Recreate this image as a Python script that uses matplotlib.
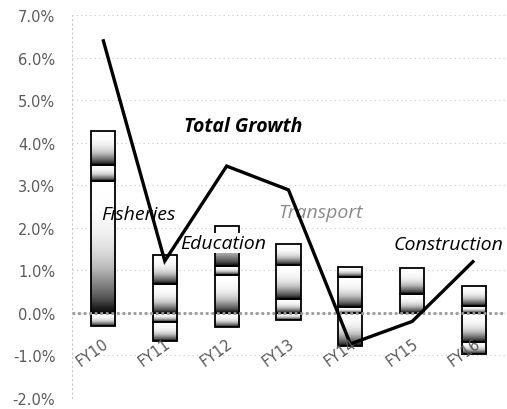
import numpy as np
import matplotlib
matplotlib.use("Agg")
import matplotlib.pyplot as plt

# ---- data (percent) ----
categories = ["FY10", "FY11", "FY12", "FY13", "FY14", "FY15", "FY16"]
# positive stacked segments (from zero upward)
pos_1 = [3.09, 0.68, 0.88, 0.33, 0.13, 0.45, 0.17]
pos_2 = [0.39, 0.67, 0.23, 0.80, 0.71, 0.61, 0.47]
pos_3 = [0.79, 0.00, 0.94, 0.49, 0.25, 0.00, 0.00]
# negative stacked segments (from zero downward)
neg_1 = [-0.30, -0.22, -0.32, -0.17, -0.78, 0.00, -0.68]
neg_2 = [0.00, -0.43, 0.00, 0.00, 0.00, 0.00, -0.29]
total_growth = [6.43, 1.22, 3.45, 2.89, -0.73, -0.20, 1.23]

y_ticks = [-2, -1, 0, 1, 2, 3, 4, 5, 6, 7]

labels = [
    ("Total Growth", 2.26, 4.39, "bold", "black", False),
    ("Fisheries", 0.57, 2.32, "normal", "black", False),
    ("Education", 1.94, 1.64, "normal", "black", True),
    ("Transport", 3.52, 2.37, "normal", "#8a8a8a", False),
    ("Construction", 5.59, 1.62, "normal", "black", False),
]

# ---- figure ----
fig = plt.figure(figsize=(5.07, 4.10), dpi=100)
ax = fig.add_axes([72 / 507, 1 - 399 / 410, 433 / 507, 383 / 410])

# axis layout first (set_position resets ticks)
ax.spines["bottom"].set_position(("data", 0))
ax.spines["bottom"].set_visible(False)
ax.spines["top"].set_visible(False)
ax.spines["right"].set_visible(False)
ax.spines["left"].set_linestyle((0, (1, 3)))
ax.spines["left"].set_color("#c8c8c8")
ax.spines["left"].set_linewidth(0.8)

x = np.arange(len(categories))
width = 0.39

s = np.linspace(0, 1, 256)
dark = 0.97 * (1 - s) ** 2.2
grad = dark.reshape(-1, 1)


def draw_stack(series_list):
    bottom = np.zeros(len(categories))
    for vals in series_list:
        vals = np.array(vals, dtype=float)
        bars = ax.bar(x, vals, width, bottom=bottom, facecolor="none",
                      edgecolor="black", linewidth=1.3, zorder=3)
        for rect, v in zip(bars, vals):
            if v == 0:
                rect.set_visible(False)
                continue
            x0 = rect.get_x()
            y0 = rect.get_y()
            h = rect.get_height()
            lo, hi = min(y0, y0 + h), max(y0, y0 + h)
            ax.imshow(grad, extent=[x0, x0 + rect.get_width(), lo, hi],
                      origin="lower", cmap="Greys", vmin=0, vmax=1,
                      aspect="auto", zorder=2, interpolation="bilinear")
        bottom = bottom + vals


draw_stack([pos_1, pos_2, pos_3])
draw_stack([neg_1, neg_2])

ax.plot(x, total_growth, color="black", linewidth=2.4, zorder=6,
        solid_joinstyle="miter", solid_capstyle="butt")

for txt, lx, ly, wt, col, box in labels:
    kw = {}
    if box:
        kw["bbox"] = dict(facecolor="white", edgecolor="none", pad=1)
    ax.text(lx, ly, txt, ha="center", va="center", fontsize=14,
            fontstyle="italic", fontweight=wt, color=col,
            family=["Open Sans", "DejaVu Sans"], zorder=5, **kw)

ax.set_xlim(-0.5, len(categories) - 0.5)
ax.set_ylim(-2, 7)

ax.set_yticks(y_ticks)
ax.set_yticklabels([f"{v:.1f}%" for v in y_ticks])
ax.set_xticks(x)
ax.set_xticklabels(categories, rotation=36, ha="right", rotation_mode="anchor")

for lab in ax.get_yticklabels() + ax.get_xticklabels():
    lab.set_family(["DejaVu Sans"])
    lab.set_fontsize(10.5)
    lab.set_color("#5a5a5a")

ax.tick_params(axis="y", length=0, pad=12)
ax.tick_params(axis="x", length=0, pad=16)

ax.yaxis.grid(True, linestyle=(0, (1, 3)), color="#c8c8c8", linewidth=0.8)
ax.yaxis.set_zorder(0.5)
ax.xaxis.set_zorder(7)
ax.axhline(0, color="#9a9a9a", linewidth=2.0, linestyle=(0, (1, 1)), zorder=4)

fig.savefig("out.png", dpi=100)
